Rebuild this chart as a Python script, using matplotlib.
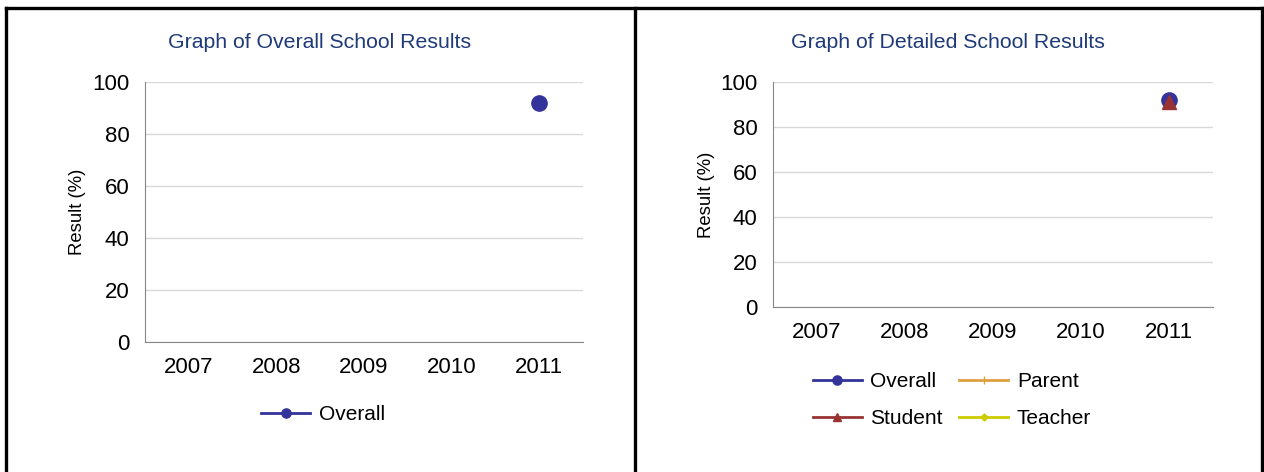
import matplotlib
matplotlib.use("Agg")
import matplotlib.pyplot as plt
from matplotlib.lines import Line2D
import numpy as np

plt.rcParams['font.family'] = ['Liberation Sans', 'DejaVu Sans']

years = ['2007', '2008', '2009', '2010', '2011']
overall = [np.nan, np.nan, np.nan, np.nan, 92]
parent = [np.nan, np.nan, np.nan, np.nan, np.nan]
student = [np.nan, np.nan, np.nan, np.nan, 91]
teacher = [np.nan, np.nan, np.nan, np.nan, np.nan]

title_col = '#1F3A78'
grid_col = '#D9D9D9'
spine_col = '#868686'
fs = 16
leg_fs = 15

fig = plt.figure(figsize=(12.64, 4.72), dpi=100)
W, H = 1264, 472

def fx(x):
    return x / W

def fy(y):
    return 1 - y / H

# panel borders
for x in [6, 635, 1262]:
    fig.add_artist(Line2D([fx(x), fx(x)], [fy(8), 0], color='black', lw=2.4,
                          transform=fig.transFigure))
fig.add_artist(Line2D([fx(6), fx(1262)], [fy(8), fy(8)], color='black', lw=2.4,
                      transform=fig.transFigure))

def setup(ax, title, title_x, ylab_x):
    ax.set_xlim(-0.5, 4.5)
    ax.set_ylim(0, 100)
    ax.set_yticks(range(0, 101, 20))
    ax.set_xticks(range(len(years)))
    ax.set_xticklabels(years)
    ax.grid(axis='y', color=grid_col, lw=1)
    ax.set_axisbelow(True)
    for s in ['top', 'right']:
        ax.spines[s].set_visible(False)
    for s in ['left', 'bottom']:
        ax.spines[s].set_color(spine_col)
    ax.tick_params(length=0, labelsize=fs, pad=11)
    ax.set_ylabel('Result (%)', fontsize=13.3)
    ax.yaxis.set_label_coords(ylab_x, 0.5)
    fig.text(fx(title_x), fy(42), title, color=title_col, fontsize=15.3,
             ha='center', va='center')

x = np.arange(len(years))

# left chart
ax1 = fig.add_axes([fx(145), fy(342), fx(583 - 145), (342 - 82) / H])
ax1.plot(x, overall, color='#333399', marker='o', ms=11, lw=2, label='Overall')
setup(ax1, 'Graph of Overall School Results', 320, -0.135)
ax1.legend(loc='center', bbox_to_anchor=(fx(323), fy(415)),
           bbox_transform=fig.transFigure, frameon=False, fontsize=leg_fs,
           handlelength=2.35, handletextpad=0.4, markerscale=0.6)

# right chart
ax2 = fig.add_axes([fx(773), fy(307), fx(1213 - 773), (307 - 82) / H])
l1, = ax2.plot(x, overall, color='#333399', marker='o', ms=11, lw=2, label='Overall')
l2, = ax2.plot(x, parent, color='#DDA040', marker='|', ms=9, lw=2, label='Parent')
l3, = ax2.plot(x, student, color='#993333', marker='^', ms=10, lw=2, label='Student')
l4, = ax2.plot(x, teacher, color='#CCCC00', marker='D', ms=6, lw=2, label='Teacher')
setup(ax2, 'Graph of Detailed School Results', 948, -0.132)
ax2.legend(handles=[l1, l3, l2, l4], loc='center',
           bbox_to_anchor=(fx(952), fy(400)),
           bbox_transform=fig.transFigure, frameon=False, fontsize=leg_fs,
           ncol=2, handlelength=2.35, handletextpad=0.4, columnspacing=0.8,
           labelspacing=0.85, markerscale=0.6)

fig.savefig('out.png', dpi=100)
